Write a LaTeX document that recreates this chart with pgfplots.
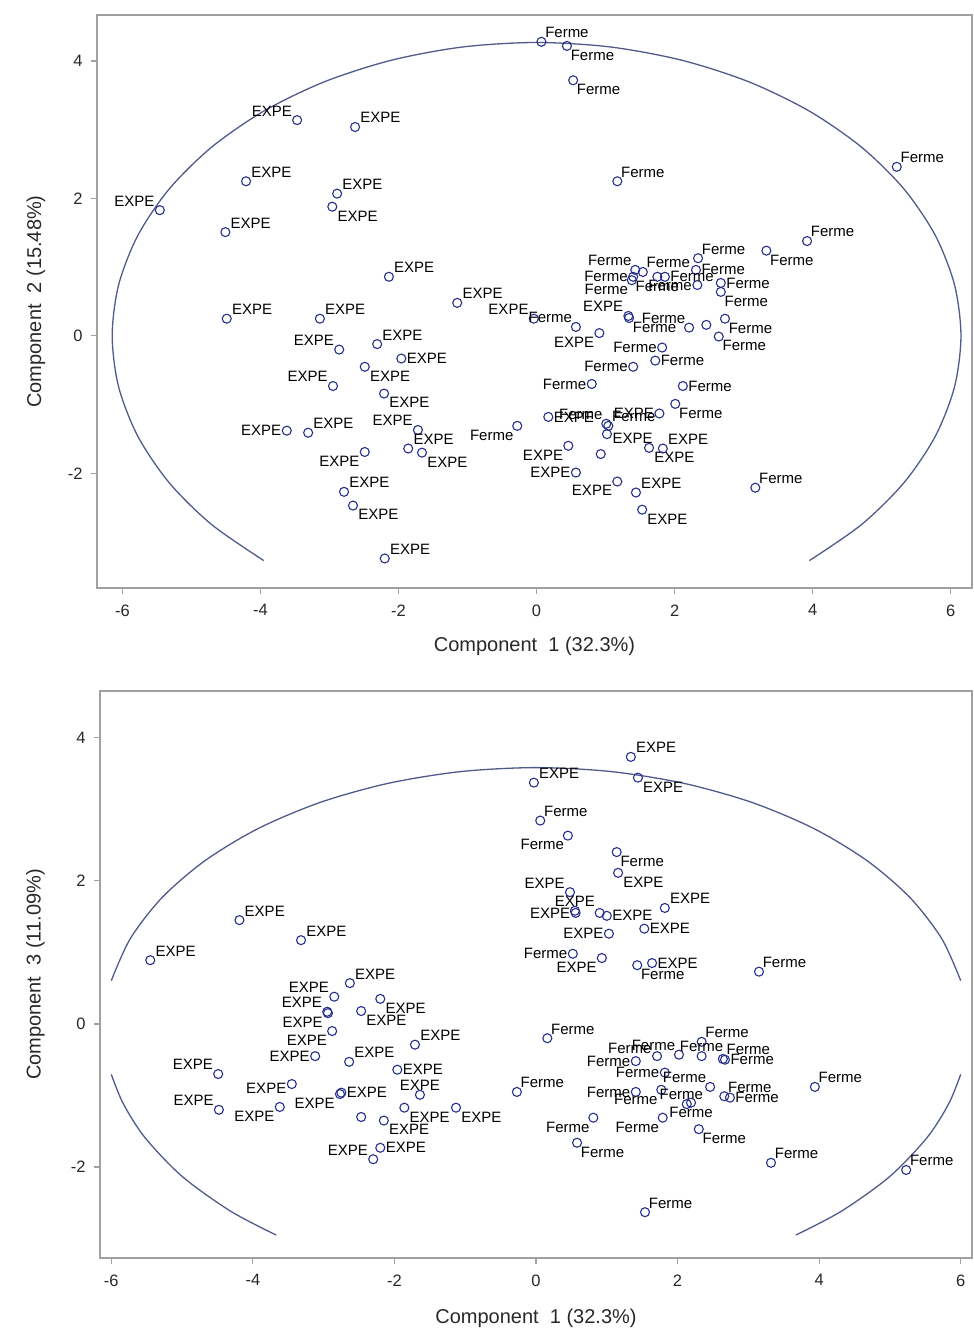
\documentclass[border=0pt]{standalone}
\usepackage{fontspec}
\setmainfont{Liberation Sans}
\usepackage{pgfplots}
\pgfplotsset{compat=1.18}
\definecolor{mk}{RGB}{38,48,140}
\definecolor{el}{RGB}{80,90,140}
\definecolor{ax}{RGB}{160,160,160}
\definecolor{tx}{RGB}{40,40,40}

\pgfplotsset{
  pca/.style={
    scale only axis,
    axis line style={ax, line width=1.2pt},
    tick style={ax, line width=1.2pt},
    tick align=outside, major tick length=6pt,
    tick pos=left,
    xtick={-6,-4,-2,0,2,4,6}, xticklabels={-6,-4,-2,0,2,4,6},
    ytick={-2,0,2,4}, yticklabels={-2,0,2,4},
    ticklabel style={font=\fontsize{16.5}{18}\selectfont, text=tx},
    xticklabel style={yshift=-7pt},
    yticklabel style={xshift=-5pt},
    label style={font=\fontsize{20}{22}\selectfont, text=tx},
  },
  pts/.style={
    only marks, mark=o, mark size=4.5pt, color=mk,
    mark options={line width=1.1pt},
    point meta=explicit symbolic,
    visualization depends on={value \thisrow{a}\as\anc},
    nodes near coords,
    every node near coord/.append style={anchor=\anc, text=black,
      font=\fontsize{15}{17}\selectfont, inner xsep=5pt, inner ysep=3.5pt},
  },
  bare/.style={only marks, mark=o, mark size=4.5pt, color=mk,
    mark options={line width=1.1pt}},
  ell/.style={el, line width=1.3pt, smooth, no markers},
}

\begin{document}
\begin{tikzpicture}
\useasboundingbox (0,0) rectangle (974pt,-1341pt);

% Component 1 vs 2
\begin{axis}[pca, at={(97pt,-15pt)}, anchor=north west,
  width=875pt, height=573pt,
  xmin=-6.37, xmax=6.31, ymin=-3.67, ymax=4.67,
  xlabel={Component\ \ 1 (32.3\%)}, ylabel={Component\ \ 2 (15.48\%)},
  xlabel style={at={(axis description cs:0.5,-0.110)}, anchor=base},
  ylabel style={at={(axis description cs:-0.064,0.5)}, anchor=base, rotate=0}]
\addplot[ell] coordinates {
 (3.953,-3.271) (4.711,-2.745) (5.326,-2.135) (5.779,-1.460) (6.057,-0.741)
 (6.150,0) (6.057,0.741) (5.779,1.460) (5.326,2.135) (4.711,2.745)
 (3.953,3.271) (3.075,3.698) (2.103,4.012) (1.068,4.205) (0,4.270)
 (-1.068,4.205) (-2.103,4.012) (-3.075,3.698) (-3.953,3.271) (-4.711,2.745)
 (-5.326,2.135) (-5.779,1.460) (-6.057,0.741) (-6.150,0) (-6.057,-0.741)
 (-5.779,-1.460) (-5.326,-2.135) (-4.711,-2.745) (-3.953,-3.271)};
\addplot[pts] table[x=x, y=y, meta=l] {
x y l a
-3.47 3.14 EXPE 340
-2.63 3.04 EXPE 200
-4.21 2.25 EXPE 200
-2.89 2.07 EXPE 200
-2.96 1.88 EXPE 160
-5.46 1.83 EXPE 340
-4.51 1.51 EXPE 200
-2.14 0.86 EXPE 200
0.07 4.28 Ferme 200
0.44 4.22 Ferme 160
0.53 3.72 Ferme 160
1.17 2.25 Ferme 200
5.22 2.46 Ferme 200
3.92 1.38 Ferme 200
3.33 1.24 Ferme 160
2.34 1.13 Ferme 200
2.31 0.96 Ferme 180
2.33 0.74 Ferme 0
2.67 0.77 Ferme 180
2.67 0.64 Ferme 160
1.43 0.96 Ferme 340
1.54 0.93 Ferme 200
1.75 0.86 Ferme 90
1.86 0.86 Ferme 180
1.40 0.86 Ferme 0
1.38 0.81 Ferme 20
-4.49 0.25 EXPE 200
-3.14 0.25 EXPE 200
-2.86 -0.20 EXPE 340
-2.31 -0.12 EXPE 200
-2.49 -0.45 EXPE 160
-2.95 -0.73 EXPE 340
-2.21 -0.84 EXPE 160
-3.62 -1.38 EXPE 0
-3.31 -1.41 EXPE 200
-2.49 -1.69 EXPE 20
-2.79 -2.27 EXPE 200
-2.66 -2.47 EXPE 160
-2.20 -3.24 EXPE 200
-1.96 -0.33 EXPE 180
-1.15 0.48 EXPE 200
-0.04 0.25 EXPE 340
0.57 0.13 Ferme 340
0.91 0.04 EXPE 20
1.33 0.29 EXPE 340
1.34 0.26 Ferme 160
1.82 -0.17 Ferme 0
1.72 -0.36 Ferme 180
2.21 0.12 Ferme 340
2.73 0.25 Ferme 160
2.64 -0.01 Ferme 160
1.40 -0.45 Ferme 0
0.80 -0.70 Ferme 0
2.12 -0.73 Ferme 180
2.01 -0.99 Ferme 160
1.78 -1.13 EXPE 0
1.01 -1.28 Ferme 340
1.04 -1.31 Ferme 200
1.02 -1.43 EXPE 170
0.17 -1.18 EXPE 180
-0.28 -1.31 Ferme 20
0.46 -1.60 EXPE 20
0.57 -1.99 EXPE 0
1.17 -2.12 EXPE 20
1.44 -2.28 EXPE 200
1.53 -2.53 EXPE 160
1.63 -1.63 EXPE 160
1.83 -1.64 EXPE 200
-1.72 -1.37 EXPE 340
-1.86 -1.64 EXPE 200
-1.66 -1.70 EXPE 160
3.17 -2.21 Ferme 200
};
\addplot[bare] coordinates {(2.46,0.16) (0.93,-1.72)};
\end{axis}

% Component 1 vs 3
\begin{axis}[pca, at={(100pt,-691pt)}, anchor=north west,
  width=872pt, height=567pt,
  xmin=-6.16, xmax=6.16, ymin=-3.27, ymax=4.65,
  xlabel={Component\ \ 1 (32.3\%)}, ylabel={Component\ \ 3 (11.09\%)},
  xlabel style={at={(axis description cs:0.5,-0.115)}, anchor=base},
  ylabel style={at={(axis description cs:-0.068,0.5)}, anchor=base, rotate=0}]
\addplot[ell] coordinates {
 (6.000,0.605) (5.732,1.191) (5.283,1.765) (4.673,2.283) (3.921,2.731)
 (3.050,3.094) (2.086,3.361) (1.059,3.525) (0,3.580) (-1.059,3.525)
 (-2.086,3.361) (-3.050,3.094) (-3.921,2.731) (-4.673,2.283) (-5.283,1.765)
 (-5.732,1.191) (-6.000,0.605)};
\addplot[ell] coordinates {
 (3.671,-2.949) (4.313,-2.617) (4.997,-2.132) (5.528,-1.584) (5.833,-1.111) (6.000,-0.705)};
\addplot[ell] coordinates {
 (-3.671,-2.949) (-4.313,-2.617) (-4.997,-2.132) (-5.528,-1.584) (-5.833,-1.111) (-6.000,-0.705)};
\addplot[pts] table[x=x, y=y, meta=l] {
x y l a
-4.19 1.45 EXPE 200
-3.32 1.17 EXPE 200
-5.45 0.89 EXPE 200
-2.63 0.57 EXPE 200
1.34 3.73 EXPE 200
1.44 3.44 EXPE 160
-0.03 3.37 EXPE 200
0.06 2.84 Ferme 200
0.45 2.63 Ferme 20
1.14 2.40 Ferme 160
1.16 2.11 EXPE 160
0.48 1.84 EXPE 340
0.56 1.55 EXPE 0
0.55 1.58 EXPE 270
1.00 1.51 EXPE 180
1.82 1.62 EXPE 200
1.03 1.26 EXPE 0
1.53 1.33 EXPE 180
0.52 0.98 Ferme 0
0.93 0.92 EXPE 20
1.43 0.82 Ferme 160
1.64 0.85 EXPE 180
3.15 0.73 Ferme 200
-2.85 0.38 EXPE 340
-2.95 0.17 EXPE 340
-2.94 0.15 EXPE 20
-2.88 -0.10 EXPE 20
-3.12 -0.45 EXPE 0
-2.20 0.35 EXPE 160
-2.47 0.18 EXPE 160
-2.64 -0.53 EXPE 200
-1.71 -0.29 EXPE 200
-1.96 -0.64 EXPE 180
-1.64 -0.99 EXPE 270
-1.86 -1.17 EXPE 160
-1.13 -1.17 EXPE 160
-2.15 -1.35 EXPE 160
-2.20 -1.73 EXPE 180
-2.30 -1.89 EXPE 340
-2.75 -0.96 EXPE 180
-2.77 -0.98 EXPE 20
-3.45 -0.84 EXPE 10
-3.62 -1.16 EXPE 20
-4.49 -0.70 EXPE 340
-4.48 -1.20 EXPE 340
0.16 -0.20 Ferme 200
-0.27 -0.95 Ferme 200
1.41 -0.52 Ferme 0
1.71 -0.45 Ferme 345
2.02 -0.43 Ferme 340
1.82 -0.68 Ferme 0
1.41 -0.95 Ferme 0
1.77 -0.92 Ferme 20
2.34 -0.25 Ferme 200
2.34 -0.45 Ferme 270
2.64 -0.49 Ferme 200
2.67 -0.50 Ferme 180
2.46 -0.88 Ferme 340
2.66 -1.01 Ferme 200
2.74 -1.03 Ferme 180
2.13 -1.12 Ferme 300
2.19 -1.10 Ferme 90
2.30 -1.47 Ferme 160
3.32 -1.94 Ferme 200
3.94 -0.88 Ferme 200
5.23 -2.04 Ferme 200
1.79 -1.31 Ferme 20
0.81 -1.31 Ferme 20
0.58 -1.66 Ferme 160
1.54 -2.63 Ferme 200
};
\addplot[bare] coordinates {(0.90,1.55) (-2.47,-1.30)};
\end{axis}
\end{tikzpicture}
\end{document}
